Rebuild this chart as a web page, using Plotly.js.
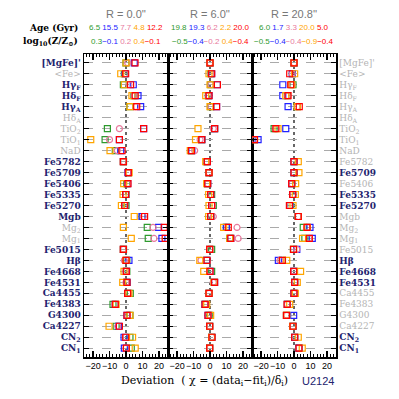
<!DOCTYPE html>
<html>
<head>
<meta charset="utf-8">
<script src="https://cdn.plot.ly/plotly-3.0.1.min.js"></script>
<style>html,body{margin:0;padding:0;background:#fff}#chart{width:399px;height:399px}</style>
</head>
<body>
<div id="chart"></div>
<script>
// Row (index) names, top to bottom
const indices = ["[MgFe]'", "&lt;Fe&gt;", "Hγ<sub>F</sub>", "Hδ<sub>F</sub>", "Hγ<sub>A</sub>", "Hδ<sub>A</sub>",
  "TiO<sub>2</sub>", "TiO<sub>1</sub>", "NaD", "Fe5782", "Fe5709", "Fe5406", "Fe5335", "Fe5270", "Mgb",
  "Mg<sub>2</sub>", "Mg<sub>1</sub>", "Fe5015", "Hβ", "Fe4668", "Fe4531", "Ca4455", "Fe4383", "G4300",
  "Ca4227", "CN<sub>2</sub>", "CN<sub>1</sub>"];
// 1 = used in fit (navy), 0 = not used (gray)
const usedLeft  = [1,0,1,1,1,0,0,0,0,1,1,1,1,1,1,0,0,1,1,1,1,1,1,1,1,1,1];
const usedRight = [0,0,0,0,0,0,0,0,0,0,1,0,1,1,0,0,0,0,1,1,1,0,0,0,0,1,1];

const radii = ["R = 0.0''", "R = 6.0''", "R = 20.8''"];
const modelNames = ["model A", "model B", "model C", "model D", "model E"];
const ages = [[6.5, 15.5, 7.7, 4.8, 12.2], [19.8, 19.3, 6.2, 2.2, 20.0], [6.0, 1.7, 3.3, 20.0, 5.0]];
const metals = [[0.3, -0.1, 0.2, 0.4, -0.1], [-0.5, -0.4, -0.2, 0.4, -0.4], [-0.5, -0.4, -0.4, -0.9, -0.4]];

// Deviations, panel R = 0.0''
const r0_green  = [0, -1, -1.6, 4.8, 2.4, null, -11.3, -12.7, -6.5, -1.5, 1.5, 0.5, 0, 0, 10, 12.9, 13.5, -1.5, 0.5, 0.5, 0.5, 2.6, -7.9, 2.4, -6, 2.4, 3.2];
const r0_blue   = [5, -0.5, 4.4, 7.3, 8.9, null, 10.7, -4, -3.2, -1.6, 1.2, 1, -0.2, -0.8, 9.7, 19.8, 21.8, -1.6, 1.8, 0.2, 0.6, 1, -6.5, 0.6, -4.5, -1.2, -1];
const r0_pink   = [1, -0.5, 1.8, 5, 6, null, -4, -10, -5.3, -1.5, 1.4, 1, -0.2, -0.8, 10.5, 16.4, 17, -1.5, -1, 0, 0, 1.2, -6.5, 1, -5, 0, 0];
const r0_orange = [0, -3.2, -1, 3.6, 2.4, null, null, -21.4, -9.7, -1.6, 1.9, -1.4, -1.8, -2.8, 5, -1.6, 3.2, -1.6, 0, -1.2, -2, 1.8, -6, 2.4, -10.3, 4, 5.6];
const r0_red    = [5.5, -0.2, 2.8, 5.6, 6.5, null, 10.7, -4, -2.4, -1.6, 1.4, 1.2, -0.2, -0.8, 11.3, 23.2, 23.8, -1.6, 0, 0.2, 0.6, 1, -6.5, 0.6, -4, -0.2, 0.2];
// Deviations, panel R = 6.0''
const r6_green  = [0, 0.5, 0.5, -1, 0.5, null, 2.8, -5, -11.3, -2, -0.6, -1.5, 1, 2, 0.5, 10, 12, 1, -2, 1, 2.5, -0.6, -3, -0.5, -0.2, 1, -0.2];
const r6_blue   = [0, 1, 4.5, -0.6, 4, null, 2.8, -5, -11, -1.6, -0.6, -1.4, 0.4, 1, 0.4, 9.9, 12.6, -0.2, -2, 0, 2.8, -0.6, -3, -1.2, -0.2, 1.2, -0.2];
const r6_pink   = [0, 0.5, 0.5, -1, 0.5, null, 2, -6, -9.3, -2, -0.6, -1.5, 0.5, 1.5, 2, 16.4, 17.1, 0, -5.5, 0, 2, -0.6, -3, -1, 0, 1, 0];
const r6_orange = [0, -0.6, 0, -2.6, 0, null, -7.3, -8.8, -12, -2.6, -0.6, -2, -0.8, -0.6, -0.8, 8.3, 12, -0.2, -6.2, -3.8, 2.5, -0.6, -2, 0.4, -0.2, 1, -0.2];
const r6_red    = [0, 1, 4.5, -0.6, 4, null, 2.8, -5, -11.3, -1.6, -0.6, -1.4, 0.4, 1, 0.4, 11.1, 12.6, -0.2, -1.8, 0, 2.8, -0.6, -3, -1.2, -0.2, 1.2, -0.2];
// Deviations, panel R = 20.8''
const r20_green  = [0, -1, -0.6, -4, 2, null, -12.1, -24, null, 0, 0, -1.4, -0.8, -2, 2.6, 5.6, 6.6, -0.3, -7, 0, 0.4, 0, -4, -4.6, -0.6, 0.4, 3];
const r20_blue   = [0, -1, -6.8, -6.8, -3.6, null, -5, -21.8, null, 0, 0, -1.4, -0.8, -2.5, 2.6, 9.7, 11.1, 1.7, -9.5, -0.2, 0.4, 0, -4, -0.2, -0.6, 0.4, 3];
const r20_pink   = [0, -1, -1, -4, 2, null, -11, -24, null, 0, 0, -1.4, -0.8, -2.5, 2.6, 8, 9, 1.7, -8.5, 0, 0.4, 0, -4, -4.4, -0.6, 0.4, 3];
const r20_orange = [0, 0.4, -1.4, -5, 2, null, -9.7, -24, null, 2.6, 3, 1, 0.8, -0.6, 2.6, 8, 5.2, -0.3, -4.4, 4, 2, 0.8, -2.6, -4.4, -0.8, 2.6, 5];
const r20_red    = [0, -2.6, -2, -3.6, 3.2, null, -11, -24, null, 0, 0, -1.4, -0.8, -2.8, 2.6, 7.9, 9.3, -0.3, -7.1, -0.2, 0.4, 0, -4.2, -4.6, -0.6, 0.4, 3];

const xTicks = [-20, -10, 0, 10, 20];

// ---- styling ----
const colors = ["#2e9a2e", "#2222ff", "#e8789c", "#ffa500", "#ff0000"];
const symbols = ["square-open", "square-open", "circle-open", "square-open", "square-open"];
const navy = "#23236e", gray = "#b4b4b4";
const serif = "DejaVu Serif";
const sans = "Liberation Sans";

const panels = [
  {series: [r0_green, r0_blue, r0_pink, r0_orange, r0_red], xa: "x", ya: "y"},
  {series: [r6_green, r6_blue, r6_pink, r6_orange, r6_red], xa: "x2", ya: "y2"},
  {series: [r20_green, r20_blue, r20_pink, r20_orange, r20_red], xa: "x3", ya: "y3"}
];
const rowY = indices.map((_, i) => i + 1);

const traces = [];
panels.forEach(p => {
  p.series.forEach((vals, m) => {
    traces.push({
      type: "scatter", mode: "markers", x: vals, y: rowY,
      xaxis: p.xa, yaxis: p.ya, name: modelNames[m], showlegend: false, cliponaxis: true,
      marker: {symbol: symbols[m], size: 6, color: colors[m], line: {color: colors[m], width: 1.2}}
    });
  });
});

function lab(t, used) {
  const c = used ? navy : gray;
  return `<span style="color:${c}">${used ? "<b>" + t + "</b>" : t}</span>`;
}
const leftText = indices.map((t, i) => lab(t, usedLeft[i]));
const rightText = indices.map((t, i) => lab(t, usedRight[i]));

const doms = [[0, 1/3], [1/3, 2/3], [2/3, 1]];
const layout = {
  width: 399, height: 399,
  margin: {l: 84, r: 63, t: 54, b: 42},
  paper_bgcolor: "#fff", plot_bgcolor: "#fff",
  showlegend: false,
  font: {family: sans, size: 10, color: "#000"},
  shapes: [], annotations: []
};
["", "2", "3"].forEach((s, k) => {
  layout["xaxis" + s] = {
    domain: doms[k], range: [-25.5, 25.5], anchor: "y" + s, automargin: false,
    tickvals: xTicks, ticktext: xTicks.map(v => v < 0 ? "−" + Math.abs(v) : String(v)), tickangle: 0,
    ticks: "inside", ticklen: 6, tickwidth: 1.2, tickcolor: "#000",
    minor: {dtick: 2, tick0: 0, ticks: "inside", ticklen: 3, tickwidth: 1, tickcolor: "#000"},
    showline: true, linecolor: "#000", linewidth: 1.5, mirror: "allticks",
    showgrid: false, zeroline: false,
    tickfont: {family: sans, size: 9, color: "#000"}
  };
  layout["yaxis" + s] = {
    domain: [0, 1], range: [27.8, 0.2], anchor: "x" + s, automargin: false,
    tickvals: rowY, ticktext: k === 0 ? leftText : (k === 2 ? rightText : rowY.map(() => "")),
    showticklabels: k !== 1, side: k === 2 ? "right" : "left",
    ticks: "inside", ticklen: 5, tickwidth: 1.2, tickcolor: "#000",
    showline: true, linecolor: "#000", linewidth: 1.5, mirror: "allticks",
    showgrid: true, gridcolor: "#aaaaaa", griddash: "dash", gridwidth: 1.2, zeroline: false,
    tickfont: {family: serif, size: 9}
  };
  layout.shapes.push({type: "line", xref: "x" + s, yref: "paper", x0: 0, x1: 0, y0: 0, y1: 1,
    line: {color: "#000", width: 1.2, dash: "dot"}, layer: "below"});
  const cx = (doms[k][0] + doms[k][1]) / 2;
  layout.annotations.push({xref: "paper", yref: "paper", x: cx, y: 1.132, text: radii[k],
    showarrow: false, font: {family: sans, size: 11, color: "#777"}, xanchor: "center", yanchor: "middle"});
  const fmt = v => (v < 0 ? "−" + Math.abs(v).toFixed(1) : v.toFixed(1));
  layout.annotations.push({xref: "paper", yref: "paper", x: cx, y: 1.086,
    text: ages[k].map((a, m) => `<span style="color:${colors[m]}">${a.toFixed(1)}</span>`).join(" "),
    showarrow: false, font: {family: sans, size: 8}, xanchor: "center", yanchor: "middle"});
  layout.annotations.push({xref: "paper", yref: "paper", x: cx, y: 1.040,
    text: metals[k].map((a, m) => `${m > 0 && a >= 0 ? " " : ""}<span style="color:${colors[m]}">${fmt(a)}</span>`).join(""),
    showarrow: false, font: {family: sans, size: 8}, xanchor: "center", yanchor: "middle"});
});
layout.annotations.push({xref: "paper", yref: "paper", x: -0.016, y: 1.086, text: "<b>Age (Gyr)</b>",
  showarrow: false, xanchor: "right", yanchor: "middle", font: {family: serif, size: 9, color: "#000"}});
layout.annotations.push({xref: "paper", yref: "paper", x: -0.016, y: 1.040, text: "<b>log<sub>10</sub>(Z/Z<sub>⊙</sub>)</b>",
  showarrow: false, xanchor: "right", yanchor: "middle", font: {family: serif, size: 9, color: "#000"}});
layout.annotations.push({xref: "paper", yref: "paper", x: 0.48, y: -0.079,
  text: "Deviation  ( χ = (data<sub>i</sub>−fit<sub>i</sub>)/δ<sub>i</sub>)",
  showarrow: false, xanchor: "center", yanchor: "middle", font: {family: serif, size: 11, color: "#000"}});
layout.annotations.push({xref: "paper", yref: "paper", x: 1.0, y: -0.079, text: "U2124",
  showarrow: false, xanchor: "right", yanchor: "middle", font: {family: sans, size: 11, color: navy}});

Plotly.newPlot("chart", traces, layout, {staticPlot: true, displayModeBar: false});
</script>
</body>
</html>
